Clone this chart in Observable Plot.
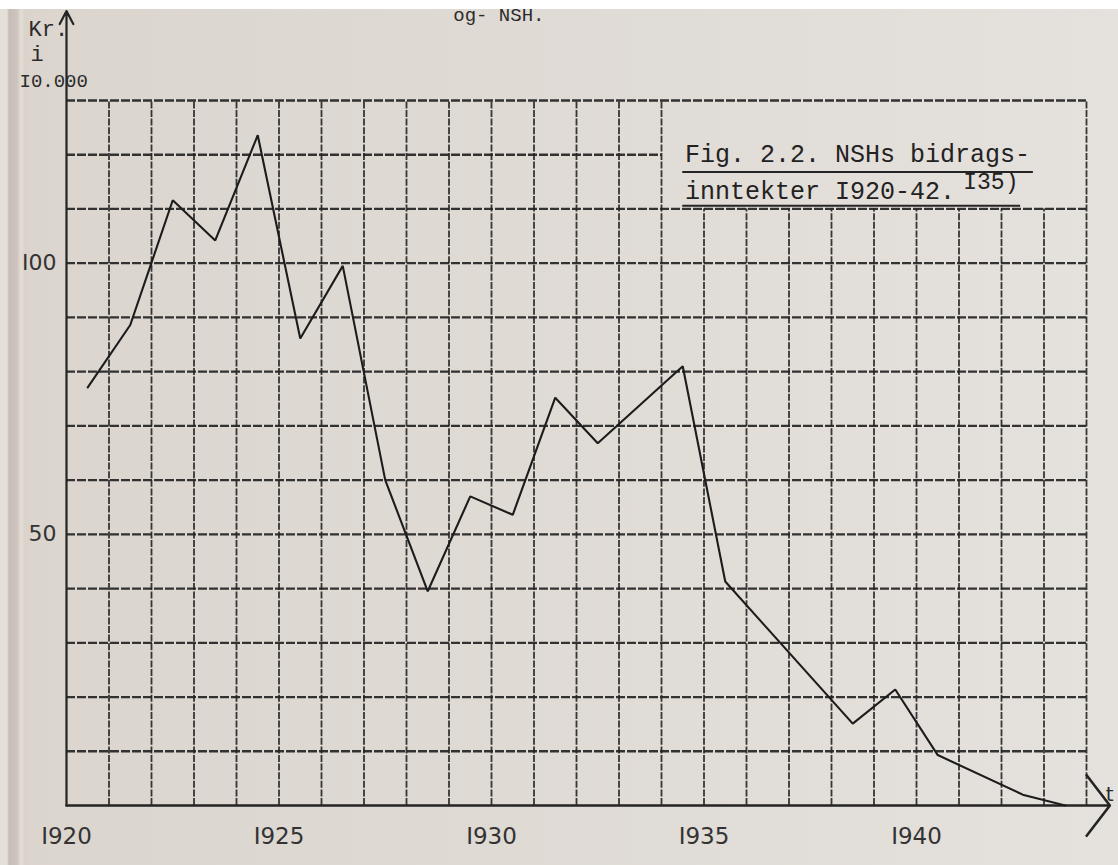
<!DOCTYPE html>
<html>
<head>
<meta charset="utf-8">
<script src="https://cdn.jsdelivr.net/npm/d3@7"></script>
<script src="https://cdn.jsdelivr.net/npm/@observablehq/plot@0.6"></script>
<style>
  html, body { margin: 0; padding: 0; width: 1118px; height: 865px; overflow: hidden; }
  body {
    position: relative;
    background:
      linear-gradient(to right, #e4dfd9 0px, #e4dfd9 7px, #c6beb6 9px, #cdc5bd 17px, #e4ddd5 21px, #d9d3cc 25px, rgba(220,215,208,0) 34px),
      linear-gradient(to right, #dbd5ce 0%, #dfdad4 45%, #e5e1dc 100%);
  }
  #chart { position: absolute; left: 0; top: 0; }
  .topband { position: absolute; left: 0; top: 0; width: 1118px; height: 9px; background: #ffffff; z-index: 2; }
</style>
</head>
<body>
<div id="chart"></div>
<div class="topband"></div>
<script>
// ---- data (values in Kr. i 10.000, plotted at mid-year) ----
const years  = [1920, 1921, 1922, 1923, 1924, 1925, 1926, 1927, 1928, 1929, 1930, 1931, 1932, 1934, 1935, 1938, 1939, 1940, 1942, 1943];
const income = [77.1, 88.6, 111.6, 104.2, 123.6, 86.1, 99.5, 60.0, 39.5, 57.0, 53.6, 75.2, 66.8, 81.0, 41.3, 15.1, 21.4, 9.3, 2.0, 0.0];

// ---- axis / tick labels ----
const xTicks = [1920, 1925, 1930, 1935, 1940];
const xTickLabels = ["I920", "I925", "I930", "I935", "I940"];
const yTicks = [50, 100];
const yTickLabels = ["50", "I00"];
const unitLines = ["Kr.", "i", "I0.000"];
const title1 = "Fig. 2.2. NSHs bidrags-";
const title2 = "inntekter I920-42.";
const titleNote = "I35)";
const topFragment = "og- NSH.";
const axisLetter = "t";

// grid (one vertical line per year, one horizontal line per 10 units)
const gridYears = d3.range(1921, 1945);
const gridValues = d3.range(10, 140, 10);

const data = years.map((year, i) => ({year, value: income[i]}));
const xLabel = new Map(xTicks.map((t, i) => [t, xTickLabels[i]]));
const yLabel = new Map(yTicks.map((t, i) => [t, yTickLabels[i]]));

const ink = "#242424";
const mono = "Liberation Mono, DejaVu Sans Mono, monospace";
const sans = "DejaVu Sans, sans-serif";

const chart = Plot.plot({
  width: 1118,
  height: 865,
  marginLeft: 66,
  marginRight: 32,
  marginTop: 100,
  marginBottom: 60,
  x: {domain: [1920, 1944], axis: null},
  y: {domain: [0, 130], axis: null},
  style: {background: "transparent", overflow: "visible"},
  marks: [
    // vertical grid lines (stopping under the title box)
    Plot.ruleX(gridYears, {
      x: d => d,
      y1: 0,
      y2: d => (d >= 1935 && d <= 1943 ? 110 : 130),
      stroke: ink, strokeWidth: 1.8, strokeOpacity: 0.9, strokeDasharray: "7 1.6"
    }),
    // horizontal grid lines (the 120 line stops at the title box)
    Plot.ruleY(gridValues, {
      y: d => d,
      x1: 1920,
      x2: d => (d === 120 ? 1934 : 1944),
      stroke: ink, strokeWidth: 2.3, strokeOpacity: 0.92, strokeDasharray: "9 2"
    }),
    // y axis with arrow
    Plot.arrow([0], {
      x1: 1920, x2: 1920, y1: 0, y2: 146.5,
      stroke: ink, strokeWidth: 2.2, headLength: 10, headAngle: 55
    }),
    // x axis with arrow
    Plot.arrow([0], {
      x1: 1920, x2: 1944.55, y1: 0, y2: 0,
      stroke: ink, strokeWidth: 2.6, headLength: 22, headAngle: 105
    }),
    // the data line
    Plot.line(data, {
      x: d => d.year + 0.5,
      y: "value",
      stroke: "#1c1c1c", strokeWidth: 2.1, strokeLinejoin: "miter"
    }),
    // y tick labels
    Plot.text(yTicks, {
      x: 1920, y: d => d, text: d => yLabel.get(d),
      textAnchor: "end", lineAnchor: "middle", dx: -10,
      fontFamily: sans, fontSize: 22, fill: "#333"
    }),
    // x tick labels
    Plot.text(xTicks, {
      x: d => d, y: 0, text: d => xLabel.get(d),
      textAnchor: "middle", lineAnchor: "bottom", dy: 38,
      fontFamily: sans, fontSize: 23, fill: "#333"
    }),
    // unit label "Kr. i 10.000"
    Plot.text([unitLines[0]], {x: 1920, y: 141.9, text: d => d, textAnchor: "start", lineAnchor: "bottom", dx: -38, fontFamily: mono, fontSize: 22, fill: "#2b2b2b"}),
    Plot.text([unitLines[1]], {x: 1920, y: 137.3, text: d => d, textAnchor: "start", lineAnchor: "bottom", dx: -36, fontFamily: mono, fontSize: 22, fill: "#2b2b2b"}),
    Plot.text([unitLines[2]], {x: 1920, y: 132.5, text: d => d, textAnchor: "start", lineAnchor: "bottom", dx: -47, fontFamily: mono, fontSize: 19, fill: "#2b2b2b"}),
    // title box text
    Plot.text([title1], {x: 1934.55, y: 118.6, text: d => d, textAnchor: "start", lineAnchor: "bottom", fontFamily: mono, fontSize: 25, fill: "#222"}),
    Plot.text([title2], {x: 1934.55, y: 111.8, text: d => d, textAnchor: "start", lineAnchor: "bottom", fontFamily: mono, fontSize: 25, fill: "#222"}),
    Plot.text([titleNote], {x: 1941.1, y: 113.6, text: d => d, textAnchor: "start", lineAnchor: "bottom", fontFamily: mono, fontSize: 23, fill: "#222"}),
    // underlines of the title
    Plot.ruleY([116.8], {x1: 1934.5, x2: 1942.75, stroke: ink, strokeWidth: 2}),
    Plot.ruleY([110.6], {x1: 1934.5, x2: 1942.45, stroke: ink, strokeWidth: 2}),
    // text remnant at the top of the page and the axis letter at the right
    Plot.text([topFragment], {x: 1929.1, y: 144.6, text: d => d, textAnchor: "start", lineAnchor: "bottom", fontFamily: mono, fontSize: 19, fill: "#2b2b2b"}),
    Plot.text([axisLetter], {x: 1944.45, y: 0.9, text: d => d, textAnchor: "start", lineAnchor: "bottom", fontFamily: sans, fontSize: 20, fill: "#2b2b2b"})
  ]
});

document.getElementById("chart").appendChild(chart);
</script>
</body>
</html>
